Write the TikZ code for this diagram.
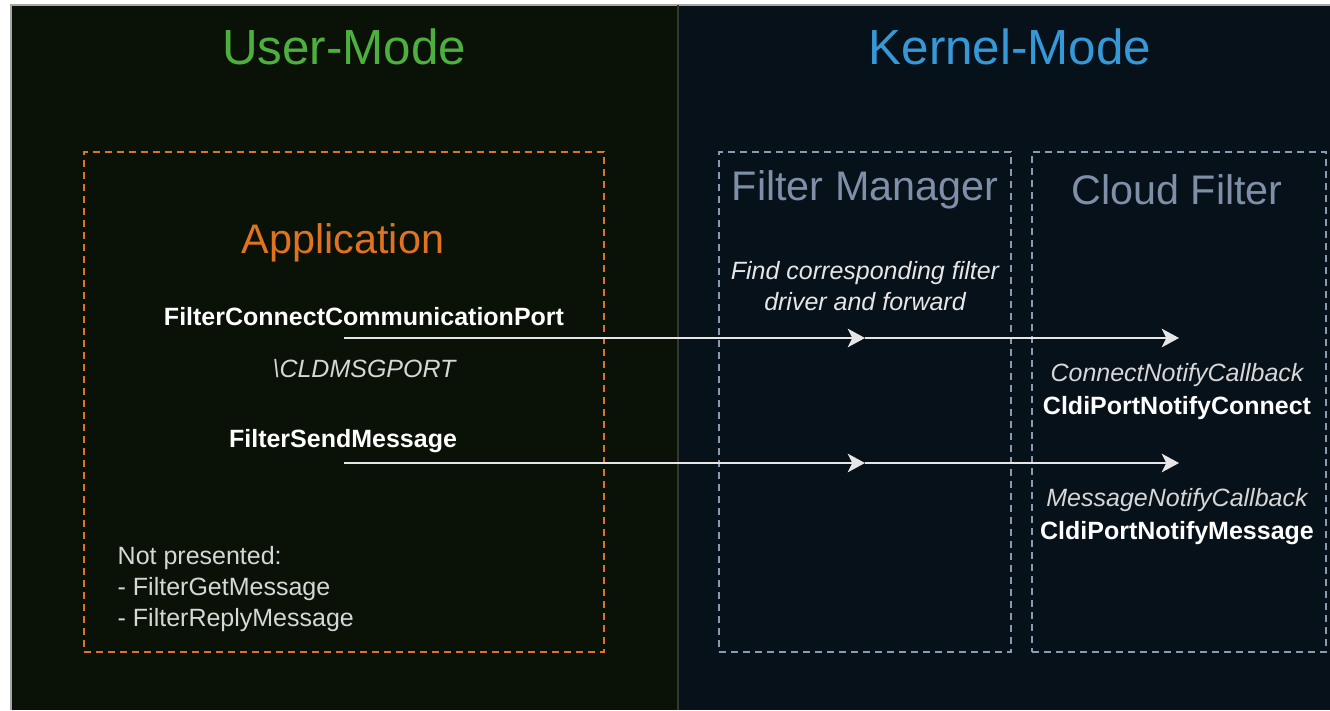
\documentclass[tikz,border=0pt]{standalone}
\usepackage{fontspec}
\setmainfont{Liberation Sans}
\usetikzlibrary{arrows.meta, positioning}

\definecolor{userbg}{HTML}{0A1207}
\definecolor{kernelbg}{HTML}{07111A}
\definecolor{usergreen}{HTML}{4DB03E}
\definecolor{kernelblue}{HTML}{3599D8}
\definecolor{apporange}{HTML}{E0731F}
\definecolor{slate}{HTML}{7F8FA8}
\definecolor{softwhite}{HTML}{E6E6E6}

\begin{document}
\begin{tikzpicture}[x=0.75pt,y=-0.75pt,
	modetitle/.style={font=\fontsize{37}{41}\selectfont},
	boxtitle/.style={font=\fontsize{31}{35}\selectfont},
	fnname/.style={text=white,font=\fontsize{18.75}{23.25}\selectfont\bfseries},
	cbname/.style={text=softwhite!85!gray,font=\fontsize{18.75}{23.25}\selectfont\itshape},
	layer/.style={draw,rectangle,dash pattern=on 5pt off 4pt,line width=1.2pt,minimum height=375pt},
	call/.style={-{Stealth[length=13pt,width=14pt,inset=3.5pt]},softwhite,line width=1.6pt}
]
	\useasboundingbox (0,0) rectangle (1330,710);
	\fill[white] (0,0) rectangle (1330,710);
	\fill[userbg] (11,5) rectangle (678,710);
	\fill[kernelbg] (678,5) rectangle (1330,710);
	\draw[gray!70,line width=0.8pt] (11,710) -- (11,5) -- (1330,5);
	\draw[gray!35!userbg,line width=0.8pt] (678,5) -- (678,710);

	\node[modetitle,text=usergreen] (um) at (344,47) {User-Mode};
	\node[modetitle,text=kernelblue] (km) at (1010,47) {Kernel-Mode};

	\node[layer,draw=apporange,minimum width=390pt] (app) at (344,402) {};
	\node[layer,draw=slate!90!white,minimum width=219pt] (fm) at (865,402) {};
	\node[layer,draw=slate!90!white,minimum width=220.5pt] (cf) at (1179,402) {};

	\node[boxtitle,text=apporange] (apptitle) at (343,243) {Application};
	\node[boxtitle,text=slate] (fmtitle) at (865,190) {Filter Manager};
	\node[boxtitle,text=slate] (cftitle) at (1177,190) {Cloud Filter};

	\node[cbname,text=softwhite,align=center] (fwd) at (865,286) {Find corresponding filter\\driver and forward};

	\node[fnname] (connect) at (364,317) {FilterConnectCommunicationPort};
	\node[cbname] (portname) at (364,369) {\textbackslash CLDMSGPORT};
	\node[fnname] (send) at (343,441) {FilterSendMessage};

	\node[cbname] (conncb) at (1177,375) {ConnectNotifyCallback};
	\node[fnname,below=0pt of conncb] (connfn) {CldiPortNotifyConnect};
	\node[cbname] (msgcb) at (1177,500) {MessageNotifyCallback};
	\node[fnname,below=0pt of msgcb] (msgfn) {CldiPortNotifyMessage};

	\node[text=softwhite!85!gray,align=left,anchor=west,font=\fontsize{18.75}{23.25}\selectfont] (notshown) at (113,589) {Not presented:\\- FilterGetMessage\\- FilterReplyMessage};

	% connect and send calls, through the filter manager
	\coordinate (c0) at (app.center |- 0,338);
	\coordinate (c1) at (865,338);
	\coordinate (c2) at (1179,338);
	\coordinate (s0) at (app.center |- 0,463);
	\coordinate (s1) at (865,463);
	\coordinate (s2) at (1179,463);
	\draw[call] (c0) -- (c1);
	\draw[call] (c1) -- (c2);
	\draw[call] (s0) -- (s1);
	\draw[call] (s1) -- (s2);
\end{tikzpicture}
\end{document}
